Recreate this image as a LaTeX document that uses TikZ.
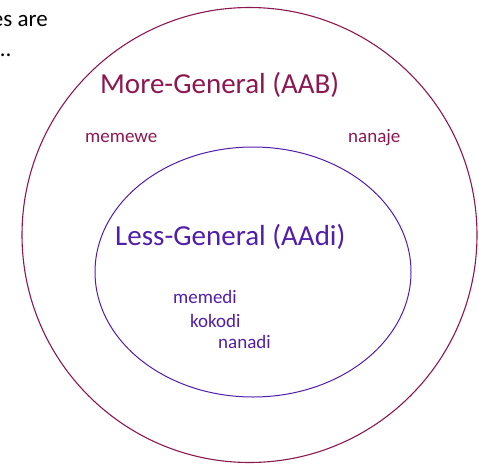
\documentclass[tikz,border=0pt]{standalone}
\usepackage{fontspec}
\setmainfont{Carlito}
\definecolor{outerset}{RGB}{140,24,80}
\definecolor{innerset}{RGB}{80,30,170}
\tikzset{
  setlabel/.style={font=\fontsize{29}{34}\selectfont, inner sep=0pt, anchor=base west},
  wordlabel/.style={font=\fontsize{19}{23}\selectfont, inner sep=0pt, anchor=base west},
  introlabel/.style={font=\fontsize{23}{27}\selectfont, inner sep=0pt, anchor=base east},
}

\begin{document}
\begin{tikzpicture}[x=1pt,y=-1pt]
			\useasboundingbox (0,0) rectangle (479,463);
			\clip (0,0) rectangle (479,463);
			%%%%% START %%%%%
			\node[introlabel] (intro) at (48,27) {es are};
			\node[introlabel] (introdots) at (11,56) {\dots};
			
			\draw[outerset, line width=1.1pt] (249.5,235) circle (227.5);
			\draw[innerset, line width=1pt] (253,272) ellipse (158 and 125);
			
			\node[setlabel, outerset] (moregen) at (100,93) {More-General (AAB)};
			\node[wordlabel, outerset] (memewe) at (85,142) {memewe};
			\node[wordlabel, outerset] (nanaje) at (348,142) {nanaje};
			
			\node[setlabel, innerset] (lessgen) at (115,245) {Less-General (AAdi)};
			\node[wordlabel, innerset] (memedi) at (173,303) {memedi};
			\node[wordlabel, innerset] (kokodi) at (190,327) {kokodi};
			\node[wordlabel, innerset] (nanadi) at (218,348) {nanadi};
			%%%%% END %%%%%
		\end{tikzpicture}
\end{document}
